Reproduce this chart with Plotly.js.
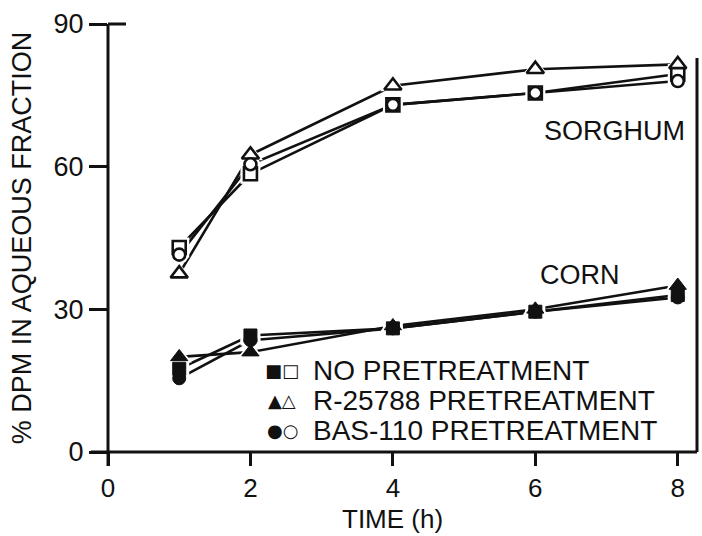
<!DOCTYPE html>
<html>
<head>
<meta charset="utf-8">
<script src="https://cdn.plot.ly/plotly-3.0.1.min.js"></script>
<style>
  html, body { margin: 0; padding: 0; background: #ffffff; }
  #chart { width: 702px; height: 536px; }
</style>
</head>
<body>
<div id="chart"></div>
<script>
// Sampling times (h)
const time = [1, 2, 4, 6, 8];

// Sorghum, % DPM in aqueous fraction (open symbols)
const sorghumNone   = [43.0, 58.5, 73.0, 75.5, 79.5];
const sorghumR25788 = [37.5, 62.5, 77.0, 80.5, 81.5];
const sorghumBAS110 = [41.5, 60.5, 73.0, 75.5, 78.0];

// Corn, % DPM in aqueous fraction (filled symbols)
const cornNone   = [17.5, 24.5, 26.0, 29.5, 33.0];
const cornR25788 = [20.0, 21.0, 26.5, 30.0, 35.0];
const cornBAS110 = [15.5, 23.5, 26.0, 29.5, 32.5];

// Axis ticks
const xTicks = [0, 2, 4, 6, 8];
const yTicks = [0, 30, 60, 90];

// Legend rows: symbol pair and treatment label
const legendSymbols = ['\u25A0\u25A1', '\u25B2\u25B3', '\u25CF\u25CB'];
const legendLabels = ['NO PRETREATMENT', 'R-25788 PRETREATMENT', 'BAS-110 PRETREATMENT'];

const FONT = '"Liberation Sans", Arial, Helvetica, sans-serif';
const INK = '#111111';

const series = [
  { y: sorghumNone,   symbol: 'square',        size: 13, open: true },
  { y: sorghumR25788, symbol: 'triangle-up',   size: 15, open: true },
  { y: sorghumBAS110, symbol: 'circle',        size: 12, open: true },
  { y: cornNone,      symbol: 'square',        size: 13, open: false },
  { y: cornR25788,    symbol: 'triangle-up',   size: 15, open: false },
  { y: cornBAS110,    symbol: 'circle',        size: 13, open: false }
];

const lineTraces = series.map(s => ({
  x: time, y: s.y, type: 'scatter', mode: 'lines',
  line: { color: INK, width: 2.6 }, hoverinfo: 'skip', cliponaxis: false
}));

// white halos keep the connecting lines short of each symbol
const haloTraces = series.map(s => ({
  x: time, y: s.y, type: 'scatter', mode: 'markers',
  marker: { symbol: s.symbol, size: s.size + 7, color: '#ffffff', line: { width: 0 } },
  hoverinfo: 'skip', cliponaxis: false
}));

const markerTraces = series.map(s => ({
  x: time, y: s.y, type: 'scatter', mode: 'markers',
  marker: {
    symbol: s.symbol, size: s.size,
    color: s.open ? '#ffffff' : INK,
    line: { color: INK, width: s.open ? 2.6 : 1 }
  },
  cliponaxis: false
}));

const data = [...lineTraces, ...haloTraces, ...markerTraces];

// pixel helpers for the plotting frame (left 108, right 697, top 24, bottom 452)
const px = v => (v - 108) / 589;
const py = v => (452 - v) / 428;

const annotations = [
  { text: 'SORGHUM', x: px(614), y: py(131), xanchor: 'center', yanchor: 'middle', size: 27 },
  { text: 'CORN', x: px(580), y: py(275), xanchor: 'center', yanchor: 'middle', size: 27 },
  // horizontal axis title
  { text: 'TIME (h)', x: px(392), y: py(536), xanchor: 'center', yanchor: 'bottom', size: 26 }
].map(a => ({
  xref: 'paper', yref: 'paper', showarrow: false,
  text: a.text, x: a.x, y: a.y, xanchor: a.xanchor, yanchor: a.yanchor,
  font: { family: FONT, size: a.size, color: INK }
}));

const rowY = [370, 400, 430];
legendLabels.forEach((label, i) => {
  annotations.push({
    xref: 'paper', yref: 'paper', showarrow: false,
    x: px(282), y: py(rowY[i]), xanchor: 'center', yanchor: 'middle',
    text: legendSymbols[i],
    font: { family: '"DejaVu Sans", sans-serif', size: 18, color: INK }
  });
  annotations.push({
    xref: 'paper', yref: 'paper', showarrow: false,
    x: px(311), y: py(rowY[i]), xanchor: 'left', yanchor: 'middle',
    text: label,
    font: { family: FONT, size: 28, color: INK }
  });
});

const lineStyle = { color: INK, width: 3 };
const shapes = [
  // vertical axis, running a little below the time axis
  { type: 'line', xref: 'paper', yref: 'paper', x0: 0, x1: 0, y0: py(466), y1: py(24), line: lineStyle },
  // short cross stroke at the top of the vertical axis
  { type: 'line', xref: 'paper', yref: 'paper', x0: 0, x1: px(126), y0: py(24), y1: py(24), line: lineStyle },
  // time axis, starting a little left of the vertical axis
  { type: 'line', xref: 'paper', yref: 'paper', x0: px(91), x1: 1, y0: 0, y1: 0, line: lineStyle },
  // right frame
  { type: 'line', xref: 'paper', yref: 'paper', x0: 1, x1: 1, y0: 0, y1: py(58), line: lineStyle }
];

const layout = {
  width: 702, height: 536,
  margin: { l: 108, r: 5, t: 24, b: 84 },
  paper_bgcolor: '#ffffff', plot_bgcolor: '#ffffff',
  showlegend: false,
  font: { family: FONT, color: INK },
  xaxis: {
    range: [0, 8.27], tickvals: xTicks, ticktext: xTicks.map(String),
    ticks: 'outside', ticklen: 13, tickwidth: 3, tickcolor: INK,
    showline: false, showgrid: false, zeroline: false,
    tickfont: { family: FONT, size: 26, color: INK }
  },
  yaxis: {
    range: [0, 90], tickvals: yTicks, ticktext: yTicks.map(String),
    ticks: 'outside', ticklen: 18, tickwidth: 3, tickcolor: INK,
    showline: false, showgrid: false, zeroline: false,
    tickfont: { family: FONT, size: 27, color: INK },
    title: { text: '% DPM IN AQUEOUS FRACTION', font: { family: FONT, size: 27, color: INK }, standoff: 14 }
  },
  annotations: annotations,
  shapes: shapes
};

Plotly.newPlot('chart', data, layout, { displayModeBar: false, staticPlot: true });
</script>
</body>
</html>
